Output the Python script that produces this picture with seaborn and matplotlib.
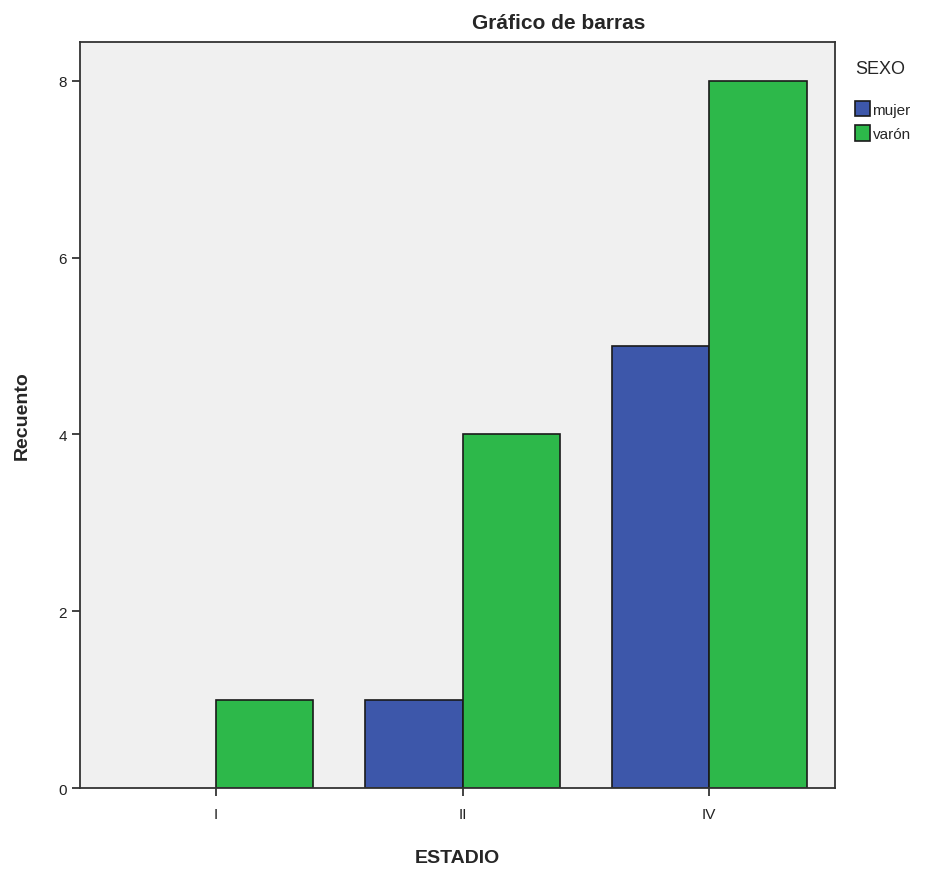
import pandas as pd
import matplotlib.pyplot as plt
import seaborn as sns

# Datos
estadios = ["I", "II", "IV"]
sexo = ["mujer", "varón"]
mujer = [0, 1, 5]
varon = [1, 4, 8]

df = pd.DataFrame({
    "ESTADIO": estadios * 2,
    "SEXO": ["mujer"] * 3 + ["varón"] * 3,
    "Recuento": mujer + varon,
})
# la barra de mujer en I no existe (recuento 0)
df = df[df["Recuento"] > 0]

sns.set_style("ticks")
plt.rcParams["font.family"] = ["Liberation Sans", "DejaVu Sans"]

fig = plt.figure(figsize=(9.3, 8.7), dpi=100)
ax = fig.add_axes([0.086, 0.0931, 0.812, 0.8575])

colores = {"mujer": "#3D57AA", "varón": "#2DB84A"}
sns.barplot(data=df, x="ESTADIO", y="Recuento", hue="SEXO", order=estadios,
            hue_order=sexo, palette=colores, width=0.79, dodge=True,
            edgecolor="#1a1a1a", linewidth=1.2, saturation=1, ax=ax)

ax.set_facecolor("#F0F0F0")
ax.set_xlim(-0.552, 2.511)
ax.set_ylim(0, 8.44)
ax.set_yticks([0, 2, 4, 6, 8])
ax.tick_params(axis="both", labelsize=11, length=6, width=1.2, colors="#222222")
ax.tick_params(axis="x", pad=8)
for s in ax.spines.values():
    s.set_linewidth(1.3)
    s.set_color("#333333")

ax.set_xlabel("ESTADIO", fontsize=14, fontweight="bold", labelpad=20)
ax.set_ylabel("Recuento", fontsize=14, fontweight="bold", labelpad=20)

fig.text(0.601, 0.973, "Gráfico de barras", ha="center", va="center",
         fontsize=15, fontweight="bold")

leg = ax.legend(title="SEXO", loc="upper left", bbox_to_anchor=(1.012, 0.99),
                frameon=False, fontsize=11, title_fontsize=13,
                handlelength=1.0, handleheight=1.2, handletextpad=0.15,
                labelspacing=0.55, borderaxespad=0.3)
leg._legend_box.align = "left"
leg._legend_box.sep = 17

plt.savefig("out.png", dpi=100)
plt.close()
